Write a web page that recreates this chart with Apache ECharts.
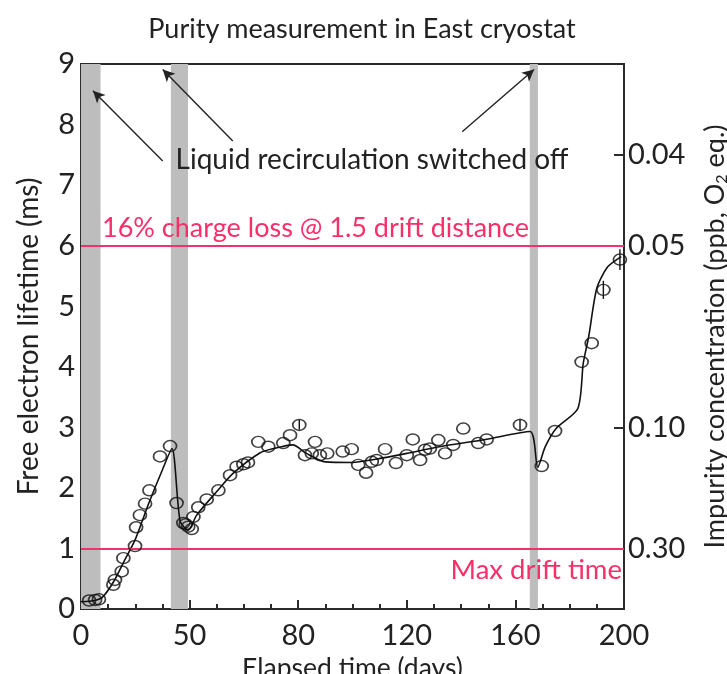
<!DOCTYPE html>
<html>
<head>
<meta charset="utf-8">
<script src="https://cdn.jsdelivr.net/npm/echarts@6/dist/echarts.min.js"></script>
<style>html,body{margin:0;padding:0;background:#fff}#c{width:727px;height:674px}</style>
</head>
<body>
<div id="c"></div>
<script>
// ---- data ----
const days     = [3.0,5.2,6.6,11.9,12.5,15.0,15.6,19.9,20.3,21.7,23.6,25.2,29.1,32.8,35.2,37.7,38.6,39.5,40.8,41.4,43.2,46.3,50.6,54.9,57.3,59.8,61.5,65.3,69.0,74.5,77.0,80.4,82.5,85.0,86.2,88.0,90.7,96.4,99.7,102.1,105.0,107.1,108.9,112.0,116.0,120.0,122.2,124.9,126.7,128.5,131.6,134.1,137.1,140.8,146.3,149.4,161.7,169.7,174.6,184.4,188.1,192.4,198.5];
const lifetime = [0.14,0.15,0.16,0.40,0.48,0.62,0.84,1.04,1.35,1.55,1.74,1.96,2.52,2.69,1.75,1.42,1.40,1.36,1.32,1.52,1.68,1.81,1.96,2.21,2.35,2.39,2.42,2.76,2.68,2.74,2.87,3.04,2.54,2.57,2.76,2.54,2.57,2.60,2.64,2.38,2.25,2.43,2.46,2.64,2.41,2.54,2.80,2.46,2.63,2.65,2.79,2.57,2.71,2.98,2.74,2.80,3.04,2.36,2.94,4.08,4.39,5.27,5.77];
const errDays  = [80.4,161.7,192.4,198.5];
const errLow   = [2.96,2.94,5.12,5.60];
const errHigh  = [3.12,3.14,5.42,5.94];
const fitDays  = [0,5,8,12,16,20,25,30,33.5,36.5,39.5,42.6,50,56,66,71,78,83,90,100,108,120,132,149,165.4,168.2,171,175,183,185,187,190,194,199];
const fitValues= [0.12,0.14,0.2,0.45,0.8,1.15,1.75,2.3,2.65,1.45,1.3,1.55,1.94,2.24,2.58,2.65,2.71,2.57,2.43,2.42,2.47,2.57,2.68,2.80,2.93,2.34,2.68,2.98,3.31,4.06,4.5,5.3,5.65,5.82];
const bandStart = [0,33.1,165.3];
const bandEnd   = [7.2,39.4,168.3];
const xTickValues = [0,40,80,120,160,200];
const xTickLabels = ["0","50","80","120","160","200"];
const rightTickLifetimes = [1,3,6,7.5];
const rightTickLabels = ["0.30","0.10","0.05","0.04"];
const refLines = [6,1];
// arrows: [fromDay, fromLifetime, toDay, toLifetime]
const arrows = [[30.1,7.40,4.4,8.56],[55.9,7.73,30.1,8.91],[140.4,7.88,166.9,8.91]];

const FONT = 'Lato';
const PINK = '#f7306a';
const AX = '#2b2b2b';

const chart = echarts.init(document.getElementById('c'), null, {renderer:'canvas'});
const option = {
  animation:false,
  backgroundColor:'#fff',
  textStyle:{fontFamily:FONT},
  title:{text:'Purity measurement in East cryostat', left:357, top:11, textAlign:'center',
    textStyle:{fontFamily:FONT,fontWeight:'normal',fontSize:27,color:'#222'}},
  grid:{left:81,right:103,top:64,bottom:65,show:true,borderColor:AX,borderWidth:2,backgroundColor:'transparent',
    containLabel:false,outerBoundsMode:'none'},
  xAxis:{type:'value',min:0,max:200,interval:40,
    name:'Elapsed time (days)',nameLocation:'middle',nameGap:46,
    nameTextStyle:{fontFamily:FONT,fontSize:26.5,color:'#222'},
    axisLine:{lineStyle:{color:AX,width:2}},
    axisTick:{inside:true,length:9,lineStyle:{color:AX,width:2}},
    minorTick:{show:true,splitNumber:4,length:5,lineStyle:{color:AX,width:2}},
    splitLine:{show:false},
    axisLabel:{fontFamily:FONT,fontSize:29,color:'#222',margin:12,
      formatter:v=>{const i=xTickValues.indexOf(v);return i>=0?xTickLabels[i]:'';}}},
  yAxis:[
    {type:'value',min:0,max:9,interval:1,position:'left',
      name:'Free electron lifetime (ms)',nameLocation:'middle',nameGap:38,nameRotate:90,
      nameTextStyle:{fontFamily:FONT,fontSize:28,color:'#222'},
      axisLine:{show:true,lineStyle:{color:AX,width:2}},
      axisTick:{inside:true,length:11,lineStyle:{color:AX,width:2}},
      minorTick:{show:true,splitNumber:5,length:5,lineStyle:{color:AX,width:2}},
      splitLine:{show:false},
      axisLabel:{fontFamily:FONT,fontSize:29,color:'#222',margin:6}},
    {type:'value',min:0,max:9,position:'right',
      name:'Impurity concentration (ppb, O{s|2} eq.)',nameLocation:'middle',nameGap:76,nameRotate:90,
      nameTextStyle:{fontFamily:FONT,fontSize:27,color:'#222',rich:{s:{fontFamily:FONT,fontSize:16,color:'#222',verticalAlign:'bottom',lineHeight:30}}},
      axisLine:{show:true,lineStyle:{color:AX,width:2}},
      axisTick:{show:true,inside:true,length:10,customValues:rightTickLifetimes,lineStyle:{color:AX,width:2}},
      splitLine:{show:false},
      axisLabel:{fontFamily:FONT,fontSize:29,color:'#222',margin:4,customValues:rightTickLifetimes,
        formatter:v=>{const i=rightTickLifetimes.indexOf(v);return i>=0?rightTickLabels[i]:'';}}}
  ],
  graphic:[
    {type:'text',x:372,y:160,style:{text:'Liquid recirculation switched off',fontFamily:FONT,fontSize:28,fill:'#222',align:'center',verticalAlign:'middle'},z:100},
    {type:'text',x:102,y:228,style:{text:'16% charge loss @ 1.5 drift distance',fontFamily:FONT,fontSize:27,fill:PINK,align:'left',verticalAlign:'middle'},z:100},
    {type:'text',x:622,y:570,style:{text:'Max drift time',fontFamily:FONT,fontSize:27.5,fill:PINK,align:'right',verticalAlign:'middle'},z:100}
  ],
  series:[
    {type:'line',name:'bands',data:[],silent:true,
      markArea:{silent:true,itemStyle:{color:'#bdbdbd'},
        data:bandStart.map((s,i)=>[{xAxis:s},{xAxis:bandEnd[i]}])},
      markLine:{silent:true,symbol:'none',label:{show:false},lineStyle:{color:PINK,width:2,type:'solid'},
        data:refLines.map(v=>({yAxis:v}))}},
    {type:'line',name:'arrows',data:[],silent:true,
      markLine:{silent:true,symbol:['none','arrow'],symbolSize:[9,12],label:{show:false},
        lineStyle:{color:'#222',width:1.4,type:'solid'},
        data:arrows.map(a=>[{coord:[a[0],a[1]]},{coord:[a[2],a[3]]}])}},
    {type:'line',name:'fit',data:fitDays.map((d,i)=>[d,fitValues[i]]),showSymbol:false,smooth:0.25,
      lineStyle:{color:'#111',width:1.6},z:3},
    {type:'custom',name:'err',z:4,
      renderItem:(params,api)=>{
        const x=api.coord([api.value(0),api.value(1)]);
        const y2=api.coord([api.value(0),api.value(2)]);
        return {type:'line',shape:{x1:x[0],y1:x[1],x2:y2[0],y2:y2[1]},style:{stroke:'#111',lineWidth:1.4}};
      },
      data:errDays.map((d,i)=>[d,errLow[i],errHigh[i]])},
    {type:'scatter',name:'data',data:days.map((d,i)=>[d,lifetime[i]]),symbol:'circle',symbolSize:[13,11],
      itemStyle:{color:'rgba(255,255,255,0)',borderColor:'#111',borderWidth:1.6},z:5}
  ]
};
chart.setOption(option);
</script>
</body>
</html>
